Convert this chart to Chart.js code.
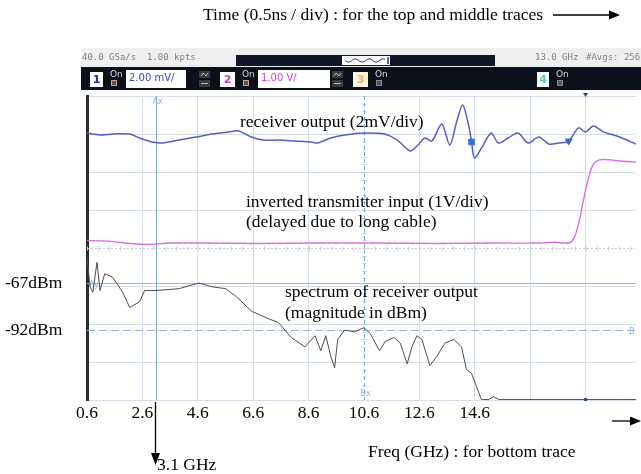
<!DOCTYPE html>
<html>
<head>
<meta charset="utf-8">
<script src="https://cdn.jsdelivr.net/npm/chart.js@4.4.1/dist/chart.umd.min.js"></script>
<style>
  html, body { margin: 0; padding: 0; background: #fff; overflow: hidden; }
  #wrap { position: relative; width: 641px; height: 474px; }
</style>
</head>
<body>
<div id="wrap"><canvas id="scopeChart" width="641" height="474"></canvas></div>
<script>
// frequency axis (GHz), 2 GHz / div
const freqTicks = [0.6, 2.6, 4.6, 6.6, 8.6, 10.6, 12.6, 14.6];
const freqGridOnly = [16.6, 18.6];

// bottom trace: spectrum of receiver output (dBm)
const specFreq = [0.6, 0.71, 0.81, 0.96, 1.07, 1.24, 1.53, 1.89, 2.14, 2.5, 2.68, 3.1, 3.93, 4.64, 5.11, 5.61, 5.97,
  6.54, 7.15, 7.51, 7.97, 8.47, 8.83, 9.04, 9.22, 9.4, 9.54, 9.65, 9.9, 10.26, 10.55, 10.62, 10.83, 11.16, 11.37,
  11.69, 11.91, 12.16, 12.33, 12.51, 12.69, 12.98, 13.23, 13.52, 13.84, 14.12, 14.3, 14.48, 14.66, 14.84, 15.1,
  15.27, 15.48, 19.92, 20.42];
const specDbm = [-53, -69, -72, -56, -71, -62, -64, -72, -80, -77, -71, -71, -70, -67, -69, -70, -74,
  -82, -86, -88, -96, -101, -95, -103, -95, -106, -112, -97, -92, -93, -91, -91, -94, -103, -98,
  -96, -99, -110, -101, -95, -97, -111, -106, -99, -97, -101, -113, -115, -122, -129, -129,
  -127.5, -129, -129, -129];

// top trace: receiver output (ns, mV), 0.5 ns / div, 2 mV / div
const rxTime = [0, 0.116, 0.233, 0.385, 0.474, 0.59, 0.68, 0.832, 0.984, 1.127, 1.279, 1.369, 1.485, 1.592, 1.726,
  1.878, 2.021, 2.084, 2.2, 2.326, 2.504, 2.683, 2.8, 2.916, 2.979, 3.05, 3.113, 3.202, 3.274, 3.336, 3.39, 3.444,
  3.471, 3.497, 3.56, 3.649, 3.712, 3.801, 3.891, 3.98, 4.079, 4.168, 4.258, 4.347, 4.436, 4.499, 4.571, 4.66,
  4.75, 4.83, 4.955];
const rxMv = [0.05, -0.05, 0, 0, -0.21, -0.42, -0.47, -0.32, -0.16, 0, 0.11, 0.16, -0.16, -0.32, -0.32,
  -0.37, -0.42, -0.47, -0.21, -0.05, 0.05, 0, -0.32, -0.89, -0.63, -0.21, -0.37, 0.53, -0.58, 0.63, 1.53, 0.47,
  -0.42, -1.26, -0.74, 0.05, -0.47, -0.21, 0.05, -0.47, -0.16, -0.53, -0.47, -0.37, 0.32, 0.11, 0.42, 0.11,
  -0.05, -0.21, -0.53];
const rxMarkTime = [3.471, 4.347];
const rxMarkMv = [-0.42, -0.37];

// middle trace: inverted transmitter input (ns, V), 1 V / div
const txTime = [0, 0.206, 0.34, 0.474, 0.608, 0.742, 1.011, 1.547, 2.084, 2.621, 3.157, 3.694, 4.052, 4.231,
  4.347, 4.392, 4.436, 4.481, 4.526, 4.571, 4.624, 4.723, 4.812, 4.955];
const txVolt = [0.2, 0.18, 0.13, 0.1, 0.1, 0.13, 0.13, 0.12, 0.13, 0.13, 0.12, 0.13, 0.13, 0.15,
  0.13, 0.24, 0.63, 1.26, 1.84, 2.21, 2.32, 2.32, 2.29, 2.26];

// cursors
const cursorAx = 3.1;    // GHz
const cursorBx = 10.6;   // GHz
const cursorAy = -67;    // dBm
const cursorBy = -92;    // dBm
const triggerTime = 4.5; // ns

const serif = '"Liberation Serif", "Times New Roman", serif';
const gridColor = '#d5dee9';
const cursorColor = '#7fa7dc';

function pts(xs, ys) {
  return xs.map((x, i) => ({ x: x, y: ys[i] }));
}

// texts on the figure
const notes = [
  { text: 'Time (0.5ns / div) : for the top and middle traces', x: 203, y: 15 },
  { text: 'receiver output (2mV/div)', x: 240, y: 122 },
  { text: 'inverted transmitter input (1V/div)', x: 246, y: 202 },
  { text: '(delayed due to long cable)', x: 246, y: 222 },
  { text: 'spectrum of receiver output', x: 285, y: 292 },
  { text: '(magnitude in dBm)', x: 285, y: 313 },
  { text: '-67dBm', x: 5, y: 283 },
  { text: '-92dBm', x: 5, y: 330 },
  { text: 'Freq (GHz) : for bottom trace', x: 368, y: 452 },
  { text: '3.1 GHz', x: 157, y: 465 }
];

function arrowHead(ctx, x, y, dir) {
  ctx.beginPath();
  if (dir === 'right') {
    ctx.moveTo(x, y); ctx.lineTo(x - 11, y - 4.5); ctx.lineTo(x - 11, y + 4.5);
  } else {
    ctx.moveTo(x, y); ctx.lineTo(x - 4.5, y - 12); ctx.lineTo(x + 4.5, y - 12);
  }
  ctx.closePath();
  ctx.fill();
}

// scope header bar (channel settings)
const headerPlugin = {
  id: 'header',
  beforeDraw(chart) {
    const ctx = chart.ctx;
    ctx.save();
    ctx.fillStyle = '#efefef';
    ctx.fillRect(81, 48, 560, 19);
    ctx.font = '9px "DejaVu Sans Mono", monospace';
    ctx.fillStyle = '#808080';
    ctx.textBaseline = 'middle';
    ctx.fillText('40.0 GSa/s  1.00 kpts', 82, 58);
    ctx.fillText('13.0 GHz', 535, 58);
    ctx.fillText('#Avgs: 256', 586, 58);
    ctx.fillStyle = '#0e1628';
    ctx.fillRect(236, 55, 259, 11);
    ctx.fillStyle = '#fff';
    ctx.fillRect(342, 56, 48, 9);
    ctx.strokeStyle = '#3a4a7a';
    ctx.lineWidth = 1;
    ctx.beginPath();
    for (let i = 0; i <= 40; i++) {
      const xx = 345 + i;
      const yy = 60.5 + 1.6 * Math.sin(i / 2.2);
      if (i === 0) ctx.moveTo(xx, yy); else ctx.lineTo(xx, yy);
    }
    ctx.stroke();
    ctx.fillStyle = '#4a6ab0';
    ctx.fillRect(387, 57, 2, 7);

    // channel row
    ctx.fillStyle = '#0b101c';
    ctx.fillRect(81, 67, 560, 23);
    const chans = [
      { n: '1', x: 90, w: 13, bg: '#ffffff', fg: '#1d2a9a', on: true, box: { x: 126, w: 60, text: '2.00 mV/', col: '#3344cc' }, icon: 199 },
      { n: '2', x: 220, w: 15, bg: '#ffffff', fg: '#c936c9', on: true, box: { x: 258, w: 72, text: '1.00 V/', col: '#d040d0' }, icon: 332 },
      { n: '3', x: 353, w: 15, bg: '#fff4dc', fg: '#e3b476', on: false },
      { n: '4', x: 537, w: 12, bg: '#ffffff', fg: '#4fd3a8', on: false }
    ];
    chans.forEach(c => {
      ctx.fillStyle = c.bg;
      ctx.fillRect(c.x, 72, c.w, 15);
      ctx.font = 'bold 11px "DejaVu Sans", sans-serif';
      ctx.fillStyle = c.fg;
      ctx.textAlign = 'center';
      ctx.fillText(c.n, c.x + c.w / 2, 80);
      ctx.textAlign = 'left';
      ctx.font = '9px "DejaVu Sans", sans-serif';
      ctx.fillStyle = '#d8d8d8';
      ctx.fillText('On', c.x + c.w + 7, 75);
      ctx.fillStyle = '#555';
      ctx.fillRect(c.x + c.w + 8, 80, 6, 6);
      ctx.strokeStyle = c.on ? '#d89a9a' : '#888';
      ctx.strokeRect(c.x + c.w + 8.5, 80.5, 5, 5);
      if (c.box) {
        ctx.fillStyle = '#ffffff';
        ctx.fillRect(c.box.x, 70, c.box.w, 18);
        ctx.font = '10px "DejaVu Sans", sans-serif';
        ctx.fillStyle = c.box.col;
        ctx.fillText(c.box.text, c.box.x + 3, 78);
        ctx.fillStyle = '#3a3a3a';
        ctx.fillRect(c.icon, 71, 11, 7);
        ctx.fillRect(c.icon, 80, 11, 7);
        ctx.strokeStyle = '#bbb';
        ctx.beginPath();
        ctx.moveTo(c.icon + 2, 76); ctx.lineTo(c.icon + 4, 73); ctx.lineTo(c.icon + 7, 76); ctx.lineTo(c.icon + 9, 73);
        ctx.moveTo(c.icon + 2, 83.5); ctx.lineTo(c.icon + 9, 83.5);
        ctx.stroke();
      }
    });
    ctx.restore();
  }
};

// centre grid lines and cursors, under the traces
const cursorPlugin = {
  id: 'cursors',
  beforeDatasetsDraw(chart) {
    const ctx = chart.ctx;
    const a = chart.chartArea;
    const sx = chart.scales.x, sv = chart.scales.yv, sd = chart.scales.ydb;
    ctx.save();
    // centre horizontal with minor ticks
    const yc = Math.round(sv.getPixelForValue(0)) + 0.5;
    ctx.strokeStyle = '#c3cedb';
    ctx.lineWidth = 1;
    ctx.setLineDash([2, 2]);
    ctx.beginPath(); ctx.moveTo(a.left, yc); ctx.lineTo(a.right, yc); ctx.stroke();
    ctx.setLineDash([]);
    const divX = sx.getPixelForValue(2.6) - sx.getPixelForValue(0.6);
    ctx.beginPath();
    for (let xx = a.left; xx < a.right; xx += divX / 5) {
      ctx.moveTo(Math.round(xx) + 0.5, yc - 2); ctx.lineTo(Math.round(xx) + 0.5, yc + 2);
    }
    const xc = Math.round(sx.getPixelForValue(cursorBx)) + 0.5;
    const divY = sv.getPixelForValue(0) - sv.getPixelForValue(1);
    for (let yy = a.top; yy < a.bottom; yy += divY / 5) {
      ctx.moveTo(xc - 2, Math.round(yy) + 0.5); ctx.lineTo(xc + 2, Math.round(yy) + 0.5);
    }
    ctx.stroke();

    ctx.strokeStyle = cursorColor;
    // Ax solid, Bx dashed
    const xa = Math.round(sx.getPixelForValue(cursorAx)) + 0.5;
    ctx.beginPath(); ctx.moveTo(xa, a.top); ctx.lineTo(xa, a.bottom); ctx.stroke();
    ctx.setLineDash([4, 3]);
    ctx.beginPath(); ctx.moveTo(xc, a.top); ctx.lineTo(xc, a.bottom); ctx.stroke();
    // Ay solid, By dashed
    ctx.setLineDash([]);
    ctx.strokeStyle = '#93b5df';
    const ya = Math.round(sd.getPixelForValue(cursorAy)) + 0.5;
    ctx.beginPath(); ctx.moveTo(a.left, ya); ctx.lineTo(a.right, ya); ctx.stroke();
    ctx.setLineDash([8, 4]);
    const yb = Math.round(sd.getPixelForValue(cursorBy)) + 0.5;
    ctx.beginPath(); ctx.moveTo(a.left, yb); ctx.lineTo(a.right, yb); ctx.stroke();
    ctx.setLineDash([]);

    ctx.font = '8px "DejaVu Sans", sans-serif';
    ctx.fillStyle = '#8ab0e0';
    ctx.textBaseline = 'middle';
    ctx.fillText('Ax', xa - 4, a.top + 6);
    ctx.fillText('Bx', xc - 4, a.bottom - 6);
    ctx.fillText('Ay', a.left + 2, ya + 1);
    ctx.fillText('B', a.right - 7, yb + 1);

    // trigger marks
    const xt = chart.scales.xt.getPixelForValue(triggerTime);
    ctx.fillStyle = '#2a3f8a';
    ctx.beginPath(); ctx.moveTo(xt - 2.5, a.top - 3); ctx.lineTo(xt + 2.5, a.top - 3); ctx.lineTo(xt, a.top + 1); ctx.fill();
    ctx.fillRect(xt - 1.5, a.bottom - 2, 3, 3);
    ctx.restore();
  },
  afterDraw(chart) {
    const ctx = chart.ctx;
    const sx = chart.scales.x;
    ctx.save();
    ctx.font = '17.5px ' + serif;
    ctx.fillStyle = '#000';
    ctx.textBaseline = 'middle';
    notes.forEach(n => ctx.fillText(n.text, n.x, n.y));
    ctx.strokeStyle = '#000';
    ctx.lineWidth = 1.3;
    // time arrow
    ctx.beginPath(); ctx.moveTo(553, 15); ctx.lineTo(612, 15); ctx.stroke();
    arrowHead(ctx, 620, 15, 'right');
    // frequency arrow at bottom right
    ctx.beginPath(); ctx.moveTo(612, 421); ctx.lineTo(634, 421); ctx.stroke();
    arrowHead(ctx, 641, 421, 'right');
    // 3.1 GHz pointer
    const xa = Math.round(sx.getPixelForValue(cursorAx)) - 0.5;
    ctx.beginPath(); ctx.moveTo(xa, chart.chartArea.bottom + 2); ctx.lineTo(xa, 455); ctx.stroke();
    arrowHead(ctx, xa, 465, 'down');
    ctx.restore();
  }
};

const ctx = document.getElementById('scopeChart').getContext('2d');
const chart = new Chart(ctx, {
  type: 'line',
  data: {
    datasets: [
      {
        label: 'spectrum',
        data: pts(specFreq, specDbm),
        xAxisID: 'x', yAxisID: 'ydb',
        borderColor: '#4d4d4d', borderWidth: 1, pointRadius: 0, tension: 0
      },
      {
        label: 'transmitter',
        data: pts(txTime, txVolt),
        xAxisID: 'xt', yAxisID: 'yv',
        borderColor: '#dc6fdc', borderWidth: 1.4, pointRadius: 0, tension: 0.3
      },
      {
        label: 'receiver',
        data: pts(rxTime, rxMv),
        xAxisID: 'xt', yAxisID: 'ymv',
        borderColor: '#5a5cc6', borderWidth: 1.5, pointRadius: 0, tension: 0.3
      },
      {
        label: 'markers',
        data: pts(rxMarkTime, rxMarkMv),
        xAxisID: 'xt', yAxisID: 'ymv',
        showLine: false,
        pointStyle: ['rect', 'triangle'],
        rotation: [0, 180],
        pointRadius: 4,
        backgroundColor: '#2f74e0', borderColor: '#2f74e0'
      }
    ]
  },
  options: {
    responsive: false,
    animation: false,
    devicePixelRatio: 1,
    layout: { padding: { left: 87, right: 0, top: 96, bottom: 52 } },
    plugins: { legend: { display: false }, tooltip: { enabled: false } },
    scales: {
      x: {
        type: 'linear', position: 'bottom', min: 0.6, max: 20.42,
        afterBuildTicks: s => { s.ticks = freqTicks.concat(freqGridOnly).map(v => ({ value: v })); },
        afterFit: s => { s.height = 22; },
        ticks: {
          autoSkip: false, maxRotation: 0, padding: 3, color: '#000',
          font: { family: serif, size: 17.5 },
          callback: v => freqTicks.includes(v) ? v.toFixed(1) : ''
        },
        grid: { drawTicks: false, color: c => (c.tick && c.tick.value === cursorBx) ? 'rgba(0,0,0,0)' : gridColor },
        border: { display: false }
      },
      xt: { type: 'linear', display: false, min: 0, max: 4.955 },
      yv: {
        type: 'linear', position: 'left', min: -4, max: 4,
        afterFit: s => { s.width = 0; },
        ticks: { display: false, stepSize: 1 },
        grid: { drawTicks: false, color: c => (c.tick && c.tick.value === 0) ? 'rgba(0,0,0,0)' : gridColor },
        border: { display: true, color: '#2b2b2b', width: 3 }
      },
      ymv: { type: 'linear', display: false, min: -14, max: 2 },
      ydb: { type: 'linear', display: false, min: -129.23, max: 32.47 }
    }
  },
  plugins: [headerPlugin, cursorPlugin]
});
</script>
</body>
</html>
